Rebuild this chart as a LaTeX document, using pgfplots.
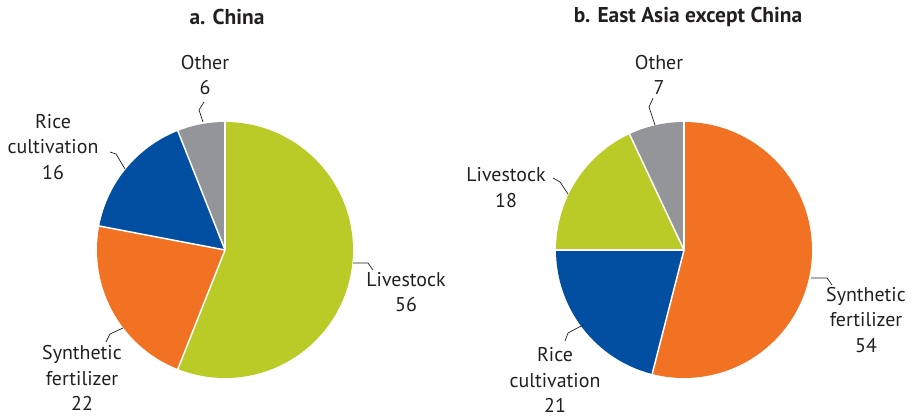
\documentclass[border=0pt]{standalone}
\usepackage{pgfplots}
\pgfplotsset{compat=1.18}
\usepackage{pgfplotstable}
\usepackage{fontspec}
\setmainfont{PT Sans}
\definecolor{clime}{RGB}{186,202,38}
\definecolor{corange}{RGB}{240,114,34}
\definecolor{cblue}{RGB}{2,79,162}
\definecolor{cgray}{RGB}{148,149,152}
\definecolor{ctext}{RGB}{35,31,32}

% shares in percent, clockwise from 12 o'clock
\pgfplotstableread{
name value color
Livestock 56 clime
Synthetic 22 corange
Rice 16 cblue
Other 6 cgray
}\chinatab
\pgfplotstableread{
name value color
Synthetic 54 corange
Rice 21 cblue
Livestock 18 clime
Other 7 cgray
}\eastasiatab

\newcommand\drawpie[3]{% table, cx, cy (pixel coords, y up)
  \gdef\cum{0}%
  \pgfplotstablegetrowsof{#1}\pgfmathtruncatemacro\lastrow{\pgfplotsretval-1}%
  \foreach \i in {0,...,\lastrow}{%
    \pgfplotstablegetelem{\i}{value}\of{#1}\let\v\pgfplotsretval
    \pgfplotstablegetelem{\i}{color}\of{#1}\let\c\pgfplotsretval
    \pgfmathsetmacro\a{90-3.6*\cum}%
    \pgfmathsetmacro\b{90-3.6*(\cum+\v)}%
    \fill[\c] (axis cs:#2,#3) -- ++(\a:128bp) arc[start angle=\a, end angle=\b, radius=128bp] -- cycle;
    \pgfmathsetmacro\n{\cum+\v}\xdef\cum{\n}%
  }%
  \gdef\cum{0}%
  \foreach \i in {0,...,\lastrow}{%
    \pgfplotstablegetelem{\i}{value}\of{#1}\let\v\pgfplotsretval
    \pgfmathsetmacro\a{90-3.6*\cum}%
    \draw[white, line width=1.5bp] (axis cs:#2,#3) -- ++(\a:128.5bp);
    \pgfmathsetmacro\n{\cum+\v}\xdef\cum{\n}%
  }%
}
\tikzset{
  lbl/.style={font=\fontsize{20}{25.5}\selectfont, text=ctext, align=center, inner sep=0pt},
  ttl/.style={font=\fontsize{21.5}{24}\selectfont\bfseries, text=ctext, inner sep=0pt},
}

\begin{document}
\begin{tikzpicture}[x=1bp,y=1bp]
\useasboundingbox (0,0) rectangle (918,418);
\begin{axis}[
  at={(0,0)}, anchor=south west,
  x=1bp, y=1bp, xmin=0, xmax=918, ymin=0, ymax=418,
  hide axis, clip=false,
]
\pgfplotsextra{\drawpie{\chinatab}{225}{168}}
\pgfplotsextra{\drawpie{\eastasiatab}{684}{168}}

% titles
\node[ttl] at (axis cs:227,401) {a. China};
\node[ttl] at (axis cs:688,401) {b. East Asia except China};

% China labels
\node[lbl] at (axis cs:205,343) {Other\\6};
\node[lbl] at (axis cs:53,271) {Rice\\cultivation\\16};
\node[lbl] at (axis cs:82,40) {Synthetic\\fertilizer\\22};
\node[lbl] at (axis cs:406,126) {Livestock\\56};
% East Asia labels
\node[lbl] at (axis cs:659,343) {Other\\7};
\node[lbl] at (axis cs:506,230.5) {Livestock\\18};
\node[lbl] at (axis cs:555,38) {Rice\\cultivation\\21};
\node[lbl] at (axis cs:866,98) {Synthetic\\fertilizer\\54};

% leader lines
\begin{scope}[line width=0.7bp, ctext]
\draw (axis cs:204,316) -- (axis cs:199,308) -- (axis cs:203,296);
\draw (axis cs:110,266) -- (axis cs:116,264) -- (axis cs:125,249);
\draw (axis cs:106,76) -- (axis cs:110,84) -- (axis cs:123,90);
\draw (axis cs:353,155) -- (axis cs:368,155) -- (axis cs:373,148);
\draw (axis cs:653,320) -- (axis cs:649,311) -- (axis cs:655,293);
\draw (axis cs:553,240) -- (axis cs:560,236) -- (axis cs:568,224);
\draw (axis cs:565,77) -- (axis cs:568,85) -- (axis cs:583,93);
\draw (axis cs:811,140) -- (axis cs:827,140) -- (axis cs:832,133);
\end{scope}
\end{axis}
\end{tikzpicture}
\end{document}
